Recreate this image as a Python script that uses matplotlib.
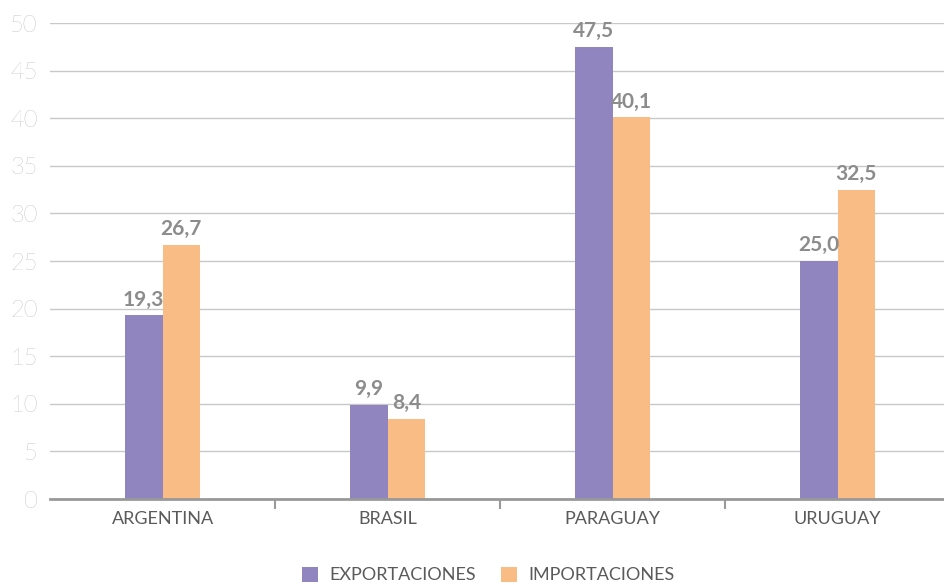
import matplotlib
matplotlib.use('Agg')
import matplotlib.pyplot as plt
import numpy as np

# data
paises = ['ARGENTINA', 'BRASIL', 'PARAGUAY', 'URUGUAY']
exportaciones = [19.3, 9.9, 47.5, 25.0]
importaciones = [26.7, 8.4, 40.1, 32.5]
series = ['EXPORTACIONES', 'IMPORTACIONES']
yticks = [0, 5, 10, 15, 20, 25, 30, 35, 40, 45, 50]

C_EXP = '#9085BF'
C_IMP = '#F9BC85'
GRAY = '#8C8C8C'

plt.rcParams['font.family'] = ['Lato', 'DejaVu Sans']

fig = plt.figure(figsize=(9.44, 5.85), dpi=100)
ax = fig.add_axes([50/944, 86/585, 900/944, 476/585])

x = np.arange(len(paises))
w = 0.168
b1 = ax.bar(x - w/2, exportaciones, w, color=C_EXP, label=series[0], zorder=3)
b2 = ax.bar(x + w/2, importaciones, w, color=C_IMP, label=series[1], zorder=3)

def fmt(v):
    return ('%.1f' % v).replace('.', ',')

for bars, vals in ((b1, exportaciones), (b2, importaciones)):
    for b, v in zip(bars, vals):
        ax.text(b.get_x() + b.get_width()/2, v + 0.6, fmt(v), ha='center', va='bottom',
                fontsize=15, fontweight='bold', color=GRAY)

ax.set_ylim(0, 50)
ax.set_xlim(-0.5, len(paises) - 0.5)
ax.set_yticks(yticks)
ax.set_yticklabels([str(t) for t in yticks], fontsize=17, color='#9A9A9A', fontweight='light')
ax.tick_params(axis='y', length=0, pad=9)
ax.yaxis.grid(True, color='#C8C8C8', linewidth=1, zorder=0)
ax.set_axisbelow(True)

ax.set_xticks(x)
ax.set_xticklabels(paises, fontsize=13, color='#5A5A5A')
ax.tick_params(axis='x', length=0, pad=9)
# separators between categories
ax.set_xticks(np.arange(0.5, len(paises) - 0.5, 1), minor=True)
ax.tick_params(axis='x', which='minor', length=7, width=1.5, color='#999999', direction='out')

for s in ['top', 'right', 'left']:
    ax.spines[s].set_visible(False)
ax.spines['bottom'].set_color('#999999')
ax.spines['bottom'].set_linewidth(2)
ax.spines['bottom'].set_zorder(4)

fig.legend(handles=[b1, b2], labels=series, loc='center', bbox_to_anchor=(488/944, 1 - 575/585),
           ncol=2, frameon=False, prop={'size': 13}, labelcolor='#5A5A5A',
           handlelength=0.9, handleheight=0.9, handletextpad=0.6, columnspacing=1.4)

fig.savefig('out.png', dpi=100)
